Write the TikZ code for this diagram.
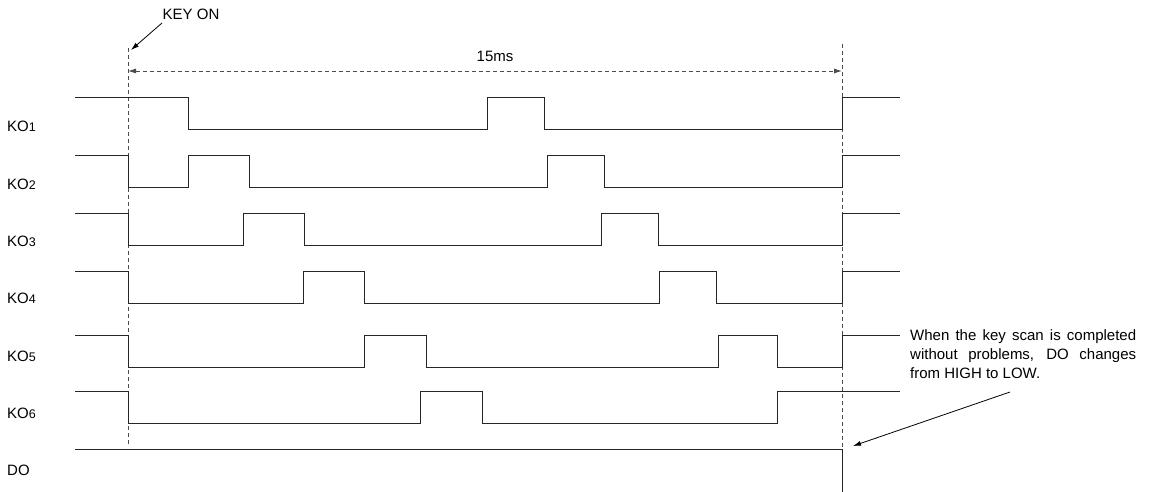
\documentclass[tikz,border=0pt]{standalone}
\usepackage{fontspec}
\setmainfont{Liberation Sans}
\usetikzlibrary{arrows.meta}
\begin{document}
\begin{tikzpicture}[x=1pt,y=-1pt,
  wave/.style={line width=0.9pt,black!85},
  guide/.style={line width=0.8pt,black!70,dash pattern=on 4pt off 3pt},
  lbl/.style={anchor=west,inner sep=0pt,font=\fontsize{15}{17}\selectfont},
  ptr/.style={line width=0.8pt,-{Latex[length=8pt,width=5pt]}},
  dim/.style={line width=0.8pt,black!70,dash pattern=on 4pt off 3pt,{Latex[length=8pt,width=5pt]}-{Latex[length=8pt,width=5pt]}}]
\useasboundingbox (0,0) rectangle (1152,492);
\newcommand{\sub}[1]{{\fontsize{12.5}{12}\selectfont #1}}
% guides
\coordinate (gLt) at (128,48);
\coordinate (gLb) at (128,446);
\coordinate (gRt) at (842,44);
\coordinate (gRb) at (842,492);
\draw[guide] (gLt) -- (gLb);
\draw[guide] (gRt) -- (gRb);
% labels
\node[lbl] (k1) at (7,126) {KO\sub{1}};
\node[lbl] (k2) at (7,184) {KO\sub{2}};
\node[lbl] (k3) at (7,241) {KO\sub{3}};
\node[lbl] (k4) at (7,298) {KO\sub{4}};
\node[lbl] (k5) at (7,356) {KO\sub{5}};
\node[lbl] (k6) at (7,413) {KO\sub{6}};
\node[lbl] (do) at (7,470) {DO};
% waveforms
\draw[wave] (75,97) -- (188,97) -- (188,129) -- (487,129) -- (487,97) -- (544,97) -- (544,129) -- (842,129) -- (842,97) -- (900,97);
\draw[wave] (75,155) -- (128,155) -- (128,187) -- (188,187) -- (188,155) -- (249,155) -- (249,187) -- (547,187) -- (547,155) -- (604,155) -- (604,187) -- (842,187) -- (842,155) -- (900,155);
\draw[wave] (75,213) -- (128,213) -- (128,245) -- (243,245) -- (243,213) -- (304,213) -- (304,245) -- (601,245) -- (601,213) -- (658,213) -- (658,245) -- (842,245) -- (842,213) -- (900,213);
\draw[wave] (75,271) -- (128,271) -- (128,303) -- (303,303) -- (303,271) -- (364,271) -- (364,303) -- (659,303) -- (659,271) -- (716,271) -- (716,303) -- (842,303) -- (842,271) -- (900,271);
\draw[wave] (75,335) -- (128,335) -- (128,367) -- (364,367) -- (364,335) -- (426,335) -- (426,367) -- (718,367) -- (718,335) -- (777,335) -- (777,367) -- (842,367) -- (842,335) -- (900,335);
\draw[wave] (75,391) -- (128,391) -- (128,423) -- (420,423) -- (420,391) -- (482,391) -- (482,423) -- (777,423) -- (777,391) -- (900,391);
\draw[wave] (75,449) -- (842,449) -- (842,492);
% KEY ON
\node[lbl,anchor=center] (keyon) at (191,14) {KEY ON};
\coordinate (keyonStart) at (162,23);
\coordinate (keyonTip) at (131,50);
\draw[ptr] (keyonStart) -- (keyonTip);
% 15ms
\node[lbl,anchor=center] (ms) at (495,56) {15ms};
\coordinate (dimL) at (128,71);
\coordinate (dimR) at (842,71);
\draw[dim] (dimL) -- (dimR);
% note
\node[lbl,anchor=north west,text width=226pt,align=justify,font=\fontsize{15}{19}\selectfont] (note) at (910,329) {When the key scan is completed\linebreak without problems, DO changes\linebreak from HIGH to LOW.};
\coordinate (noteStart) at (1010,392);
\coordinate (noteTip) at (853,446);
\draw[ptr] (noteStart) -- (noteTip);
\end{tikzpicture}
\end{document}
